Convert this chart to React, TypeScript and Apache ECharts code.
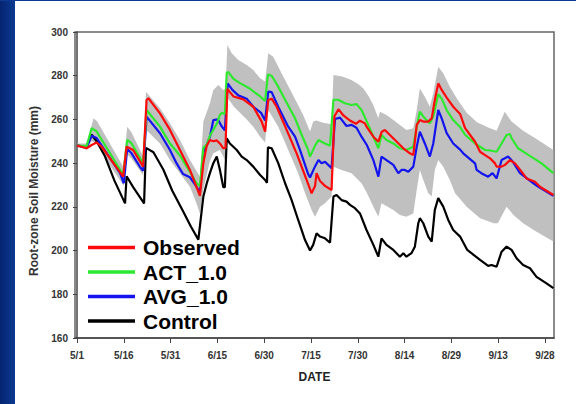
import { useEffect, useRef } from 'react';
import * as echarts from 'echarts';

// Day index 0 = May 1
const xTickDays = [0, 15, 30, 45, 60, 75, 90, 105, 120, 135, 150];
const xTickLabels = ['5/1', '5/16', '5/31', '6/15', '6/30', '7/15', '7/30', '8/14', '8/29', '9/13', '9/28'];

const observed: [number, number][] = [
  [0, 248], [3.1, 246.8], [4.7, 248.3], [6.3, 249.4], [7.9, 247.5], [14.8, 233.8], [15.9, 247.5], [18, 246],
  [21.2, 238.4], [22.3, 268.9], [22.9, 269.7], [26.6, 262.8], [29.8, 255.2], [33, 246], [36.2, 236.9], [39.4, 225],
  [40.5, 240], [41.6, 248], [42.6, 250.6], [43.7, 250], [44.8, 250.4], [45.8, 249], [46.9, 246.8], [47.6, 247],
  [48.2, 274], [49, 272.5], [50.2, 270.5], [53.3, 269.2], [56.5, 265.8], [59.2, 259], [60.3, 254.4],
  [61.3, 268.9], [62.4, 269.5], [64, 265.8], [67.2, 255.2], [70.4, 244.5], [73.6, 232.3], [75.2, 226.2],
  [76.3, 229.5], [76.8, 235.4], [77.9, 231.8], [79.5, 229.6], [81.6, 227.7], [82.5, 261.3], [83.8, 264.7],
  [85.4, 261.8], [87.5, 259.5], [89.4, 258], [90.7, 259.4], [92.3, 258.2], [92.8, 256.7], [95, 252.1],
  [96.6, 249.8], [97.7, 254.4], [98.7, 255.2], [100.3, 252.9], [102.5, 249.8], [104.6, 246.8], [106.7, 244.5],
  [107.8, 243.7], [108.9, 257.5], [109.9, 259.7], [111, 259], [112.6, 259], [113.7, 260.5], [114.7, 268.9],
  [115.8, 276.5], [116.9, 273.5], [118.5, 270], [120.6, 265.8], [122.8, 262.5], [124.4, 256], [127.6, 249.8],
  [129.2, 245.2], [130.8, 243.7], [132.4, 242.2], [134, 239.9], [134.5, 238.4], [136.1, 238.4], [137.2, 239.2],
  [138.8, 241.4], [140.4, 239.9], [142.5, 236.1], [144.1, 233], [146.8, 231.5], [148.4, 229.2], [152.7, 225.4],
];

const act: [number, number][] = [
  [0, 248], [3.1, 247.8], [4.7, 256], [6.3, 254.5], [14.8, 234.6], [16.1, 250.6], [17.5, 249], [21.2, 239.9],
  [22.3, 264.3], [26.6, 256.7], [29.8, 249], [33, 243.5], [36.2, 236], [38.2, 231], [39.4, 229.5], [40.5, 247],
  [41.6, 248.5], [42.6, 252.5], [44.8, 258], [45.8, 262], [46.4, 263], [47.4, 262.5], [48, 281.5], [48.6, 281.5],
  [50.2, 278.5], [52.4, 276.5], [55.5, 274], [58.7, 270.5], [60.3, 268.5], [61.2, 280.5], [62.4, 280],
  [64.5, 275], [66.7, 269], [69.9, 260.5], [72, 253], [74.1, 246], [74.7, 243], [76.3, 248], [77.4, 250.6],
  [78.4, 249.8], [79.5, 249], [81.1, 248], [82.2, 269], [83.7, 269], [85.9, 267.4], [88, 266.6], [89.6, 267],
  [91.2, 264.3], [92.9, 259], [95, 252.1], [96.6, 246.8], [97.6, 252.9], [99.2, 250.6], [101.4, 249],
  [103.5, 246.8], [105.6, 246], [107.8, 247.5], [108.9, 256.7], [109.9, 263.5], [111.5, 260.5], [113.1, 258.2],
  [114.2, 261.3], [115.8, 271.5], [116.9, 269.5], [118.5, 264.3], [120.6, 259.7], [122.8, 256.5], [124.4, 253],
  [127.6, 249], [130.8, 246], [132.4, 245.8], [134.5, 245.2], [136.1, 249], [137.7, 252.9], [138.8, 253.3],
  [139.3, 251.4], [141.4, 246.8], [144.4, 244], [147.3, 241.4], [148.9, 239.9], [152.7, 235.4],
];

const avg: [number, number][] = [
  [0, 248], [3.1, 247.3], [4.7, 252.5], [6.3, 251.5], [13.8, 235.4], [15, 230.8], [16.1, 246.5], [17.5, 244.5],
  [20.3, 238], [21.2, 236.5], [22.3, 261.3], [26.6, 253.7], [29.8, 246], [31.9, 240], [34, 235], [36.2, 233.5],
  [38.2, 229.5], [39.4, 226.5], [40.5, 244.5], [42.6, 252], [43.7, 259.7], [45.2, 260], [46.3, 257], [47.4, 255],
  [48.3, 276.5], [49.8, 273.5], [51.7, 271], [54.4, 269.5], [56.5, 265.8], [59, 263], [60.3, 259.5],
  [61.3, 272.7], [62.4, 272.5], [64.5, 265.8], [67.7, 256.7], [69.9, 252.1], [71.5, 246], [74.1, 235],
  [74.7, 233.4], [76.3, 238.5], [77.4, 241.4], [78.4, 239.9], [79.5, 240.6], [81.1, 238.4], [81.6, 237.6],
  [82.7, 260.2], [84.3, 260.8], [86.4, 257], [88, 257.5], [89.6, 256.2], [91.2, 252.1], [92.9, 248.3],
  [95, 241.4], [96.6, 233.8], [97.6, 243], [99.2, 241.4], [101.4, 239.2], [103, 235.4], [104, 236.9],
  [105.1, 236.9], [106.2, 236.1], [107.8, 238.4], [108.9, 247.5], [109.9, 254.4], [111.5, 249], [113.1, 243],
  [114.2, 249], [115.8, 264.3], [116.9, 260.5], [118.5, 253.7], [120.6, 249], [122.8, 246.2], [123.8, 244.5],
  [127.6, 239.9], [128.1, 236.9], [129.6, 235.4], [131.8, 233.8], [133.2, 235.4], [134.5, 233], [136.1, 241.4],
  [138.2, 243], [139.8, 240.5], [142, 235.4], [146.3, 230.8], [147.9, 229.2], [152.7, 225],
];

const control: [number, number][] = [
  [0, 248], [3, 247.5], [4.7, 253], [6.3, 250], [9, 243], [12, 232], [15.4, 221.6], [15.9, 234], [18, 229],
  [21.5, 221.6], [22.1, 247], [24.5, 245], [27.7, 237], [30.5, 227.5], [34, 218], [36.5, 211], [38.9, 205],
  [40, 218.6], [40.5, 224.7], [41.6, 230.8], [42.6, 235.4], [43.7, 240], [44.8, 243], [45.8, 237], [46.9, 229],
  [47.4, 229], [48, 251.4], [49, 249], [51.2, 246], [52.8, 243], [54.4, 241.4], [56.5, 238.4], [58.7, 234.6],
  [60.3, 232.3], [60.9, 231], [61.2, 247.2], [62.4, 246.8], [64.5, 240], [66.7, 230.8], [68.8, 223.1],
  [70.9, 214], [73.1, 204.8], [74.7, 200], [75.7, 202.6], [76.8, 207.9], [77.9, 206.4], [79.5, 205.6],
  [81.1, 203.6], [82.2, 224.7], [83.2, 225.4], [84.8, 223.1], [86.4, 222.4], [87.5, 220.9], [89.1, 219.4],
  [90.7, 217], [92.8, 209.4], [95, 202.6], [96.6, 197.2], [97.6, 205.6], [99.2, 202.6], [101.4, 200.3],
  [103.5, 197.2], [104.6, 198.8], [105.6, 197.2], [107.2, 198.8], [108.3, 201.8], [109.4, 212.5],
  [109.9, 214.8], [111, 212.5], [112.6, 206.4], [113.7, 204.1], [114.7, 218.6], [115.8, 224], [117.4, 220.1],
  [119, 214], [120.6, 209.4], [122.8, 206.4], [125.1, 200.3], [129.2, 195.7], [131.8, 193], [132.9, 193.4],
  [134.5, 192.6], [136.1, 199.5], [137.7, 201.8], [139.3, 200.3], [140.9, 196.5], [143, 193.4], [145.2, 191.9],
  [147.3, 188], [150.5, 185], [152.7, 182.8],
];

// Ensemble spread (upper and lower envelope)
const bandUpper: [number, number][] = [
  [0, 249], [3.1, 249], [5.3, 260.5], [6.5, 259], [14.8, 238.4], [16.1, 256.7], [17.5, 254], [21.2, 243],
  [22.1, 272.7], [26.6, 265.1], [29.8, 258.2], [33, 250.6], [36.2, 241.4], [39.4, 233.8], [40.5, 259],
  [42.6, 267.4], [43.7, 273.5], [45.3, 275.8], [46.9, 273.5], [47.6, 274], [48.2, 294], [49.6, 290.3],
  [51.7, 287.2], [54.4, 284.9], [56.5, 282.6], [58.7, 278.8], [60.3, 277.3], [61.3, 290.3], [62.9, 288.7],
  [66.1, 279.6], [69.3, 271], [72.5, 262], [74.7, 254.5], [75.7, 259], [76.8, 259.5], [78.9, 258.5],
  [81.6, 257.8], [82.2, 280.3], [85, 279.6], [88, 278], [90.3, 276], [91.8, 274.2], [93.6, 270.4], [95, 266.5],
  [96.6, 260.5], [97.1, 263.5], [99.2, 262], [101.4, 259.7], [103.5, 257.5], [105.6, 255.2], [107.8, 256],
  [108.9, 264.3], [109.9, 274.2], [111.5, 270.4], [113.1, 265.8], [114.2, 272], [115.8, 284.1],
  [117.4, 281.1], [119.5, 275], [121.8, 269.5], [124.9, 263], [128.2, 258.7], [131.8, 256.3], [134.5, 254.8],
  [137.1, 263.5], [139.3, 259], [143, 254.8], [147.3, 251], [152.7, 246],
];

const bandLower: [number, number][] = [
  [0, 248], [3.1, 246], [4.7, 250], [6.3, 249], [11, 238], [15, 229.5], [16.1, 244], [17.5, 242],
  [21.2, 234.5], [22.3, 255], [26.6, 249], [29.8, 241.4], [33, 235.4], [36.2, 229.2], [38.2, 222], [39.4, 217],
  [40.5, 228], [42.6, 241], [43.7, 244.5], [45.8, 246], [46.9, 243], [47.4, 241.4], [48, 270.4], [50.3, 265.8],
  [52.4, 262.8], [54.4, 260], [56.5, 256.7], [58.7, 252.1], [60.3, 249.5], [61.3, 264.3], [64.5, 256.7],
  [67.7, 246], [70.9, 235.4], [73.1, 226.2], [75.2, 218.6], [76.3, 215.5], [77.9, 220.1], [79.5, 221.6],
  [81.6, 224.7], [82.2, 238.4], [84.8, 236.9], [88, 235.4], [91.2, 230.8], [92.9, 226.5], [95, 220.1],
  [96.6, 215.5], [97.6, 221.6], [101.4, 218.6], [103.5, 216.3], [105.6, 215.5], [107.8, 217], [108.9, 227.7],
  [109.9, 236.9], [111, 232.3], [112.6, 226.2], [113.7, 224.7], [114.7, 236.9], [115.8, 241.4],
  [117.4, 238.4], [119.5, 232.3], [121.2, 226.2], [124.9, 220.1], [129.2, 214.8], [133.6, 212.5],
  [134.9, 212.5], [137.7, 220.1], [139.9, 216.3], [143, 212.5], [147.3, 208.6], [152.7, 204.1],
];

const FONT = "'Liberation Sans', Arial, sans-serif";

export default function App() {
  const ref = useRef<HTMLDivElement>(null);

  useEffect(() => {
    if (!ref.current) return;
    const chart = echarts.init(ref.current, null, { renderer: 'svg' });

    const line = (name: string, data: [number, number][], color: string, z: number) => ({
      name,
      type: 'line',
      data,
      showSymbol: false,
      symbol: 'none',
      z,
      lineStyle: { color, width: 2.2 },
      itemStyle: { color },
    });

    chart.setOption({
      animation: false,
      grid: {
        left: 75,
        right: 22,
        top: 32,
        bottom: 66,
        show: true,
        borderColor: '#666',
        borderWidth: 1.5,
        backgroundColor: 'transparent',
      },
      legend: {
        data: ['Observed', 'ACT_1.0', 'AVG_1.0', 'Control'],
        orient: 'vertical',
        left: 88,
        top: 237,
        padding: 0,
        icon: 'rect',
        itemWidth: 47,
        itemHeight: 3.5,
        itemGap: 3.5,
        textStyle: { fontSize: 21, fontWeight: 'bold', color: '#000', fontFamily: FONT, padding: [0, 0, 0, 3] },
      },
      xAxis: {
        type: 'value',
        min: -0.64,
        max: 152.9,
        name: 'DATE',
        nameLocation: 'middle',
        nameGap: 33,
        nameTextStyle: { fontSize: 12, fontWeight: 'bold', color: '#222', fontFamily: FONT },
        axisLine: { lineStyle: { color: '#444', width: 1.5 } },
        axisTick: { customValues: xTickDays, length: 5, lineStyle: { color: '#444' } },
        axisLabel: {
          customValues: xTickDays,
          formatter: (v: number) => xTickLabels[xTickDays.indexOf(Math.round(v))] ?? '',
          fontSize: 10,
          fontWeight: 'bold',
          color: '#333',
          fontFamily: FONT,
          margin: 12,
        },
        splitLine: { show: false },
      },
      yAxis: {
        type: 'value',
        min: 160,
        max: 300,
        interval: 20,
        axisLine: { show: true, lineStyle: { color: '#444', width: 1.5 } },
        axisTick: { show: true, length: 4, lineStyle: { color: '#444' } },
        axisLabel: { fontSize: 10, fontWeight: 'bold', color: '#333', fontFamily: FONT, margin: 7 },
        splitLine: { show: false },
      },
      graphic: [
        {
          type: 'text',
          x: 34,
          y: 191,
          rotation: Math.PI / 2,
          style: {
            text: 'Root-zone Soil Moisture (mm)',
            fontSize: 12,
            fontWeight: 'bold',
            fill: '#333',
            fontFamily: FONT,
            align: 'center',
            verticalAlign: 'middle',
          },
        },
      ],
      series: [
        {
          name: 'spread',
          type: 'custom',
          silent: true,
          z: 1,
          data: [bandUpper[0]],
          encode: { x: 0, y: 1 },
          renderItem: (_params: any, api: any) => {
            const pts = bandUpper
              .map((p) => api.coord(p))
              .concat(bandLower.slice().reverse().map((p) => api.coord(p)));
            return { type: 'polygon', shape: { points: pts }, style: { fill: '#c0c0c0' } };
          },
        },
        line('Control', control, '#000000', 3),
        line('AVG_1.0', avg, '#1414ee', 4),
        line('ACT_1.0', act, '#2ee82e', 5),
        line('Observed', observed, '#ff0a0a', 6),
      ],
    });

    return () => chart.dispose();
  }, []);

  return (
    <div
      style={{
        position: 'fixed',
        left: 0,
        top: 0,
        width: 576,
        height: 404,
        background: '#ffffff',
      }}
    >
      <div
        style={{
          position: 'absolute',
          left: 0,
          top: 0,
          width: 15,
          height: 404,
          background: 'linear-gradient(to right, #052470, #0c3a92)',
        }}
      />
      <div style={{ position: 'absolute', left: 0, top: 0, width: 576, height: 1, background: '#0c3a92' }} />
      <div ref={ref} style={{ position: 'absolute', left: 0, top: 0, width: 576, height: 404 }} />
    </div>
  );
}
